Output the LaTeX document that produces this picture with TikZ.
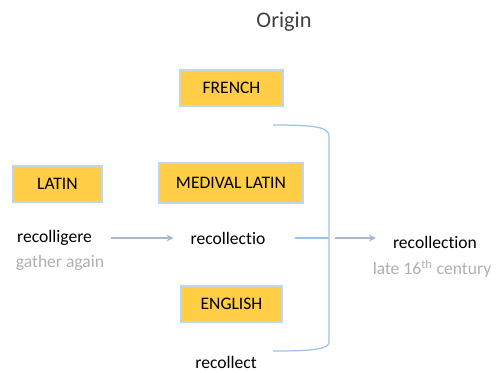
\documentclass[tikz,border=0pt]{standalone}
\usepackage{fontspec}
\setmainfont{Carlito}[Ligatures=NoCommon]
\usetikzlibrary{arrows.meta}
\definecolor{boxFill}{RGB}{255,205,70}
\definecolor{boxLine}{RGB}{189,215,238}
\definecolor{braceBlue}{RGB}{157,195,230}
\definecolor{arrowGray}{RGB}{170,184,204}
\definecolor{noteGray}{RGB}{175,175,175}
\tikzstyle{langBox} = [draw=boxLine, fill=boxFill, line width=0.6pt,
   minimum height=0.72cm, inner sep=0pt, font=\fontsize{10}{12}\selectfont]
\tikzstyle{word} = [inner sep=1pt, font=\fontsize{10}{12}\selectfont]
\tikzstyle{note} = [word, text=noteGray]
\tikzstyle{thinArrow} = [draw=arrowGray, line width=0.6pt,
   -{Stealth[length=4pt,width=4pt]}]
\tikzstyle{brace} = [draw=braceBlue, line width=0.7pt]

\begin{document}
\begin{tikzpicture}
  \useasboundingbox (0,0) rectangle (9.94,-7.44);

  \node[font=\fontsize{12.7}{15}\selectfont, text=black!75] (title) at (5.68,-0.44) {Origin};

  % language boxes
  \node[langBox, minimum width=2.06cm] (french) at (4.63,-1.76) {FRENCH};
  \node[langBox, minimum width=1.78cm] (latin) at (1.15,-3.68) {LATIN};
  \node[langBox, minimum width=2.88cm, minimum height=0.8cm] (medlatin) at (4.62,-3.66) {MEDIVAL LATIN};
  \node[langBox, minimum width=2.02cm] (english) at (4.63,-6.08) {ENGLISH};

  % words
  \node[word] (recolligere) at (1.09,-4.76) {recolligere};
  \node[note] (gather) at (1.2,-5.26) {gather again};
  \node[word] (recollectio) at (4.56,-4.76) {recollectio};
  \node[word] (recollect) at (4.52,-7.24) {recollect};
  \node[word] (recollection) at (8.7,-4.84) {recollection};
  \node[note] (century) at (8.64,-5.37) {late 16\textsuperscript{th} century};

  % bracket
  \coordinate (btop) at (5.46,-2.5);
  \coordinate (bbot) at (5.46,-7.02);
  \coordinate (bmid) at (6.58,-4.76);
  \draw[brace] (btop) .. controls (6.3,-2.5) and (6.58,-2.54) .. (6.58,-2.72)
     -- (6.58,-6.84) .. controls (6.58,-6.98) and (6.3,-7.02) .. (bbot);
  \draw[brace, shorten <=0.56cm] (recollectio.east) -- (bmid);

  \draw[thinArrow, shorten <=0.34cm, shorten >=0.3cm] (recolligere) -- (recollectio);
  \draw[thinArrow, shorten <=0.12cm, shorten >=0.3cm] (bmid) -- (bmid -| recollection.west);
\end{tikzpicture}
\end{document}
